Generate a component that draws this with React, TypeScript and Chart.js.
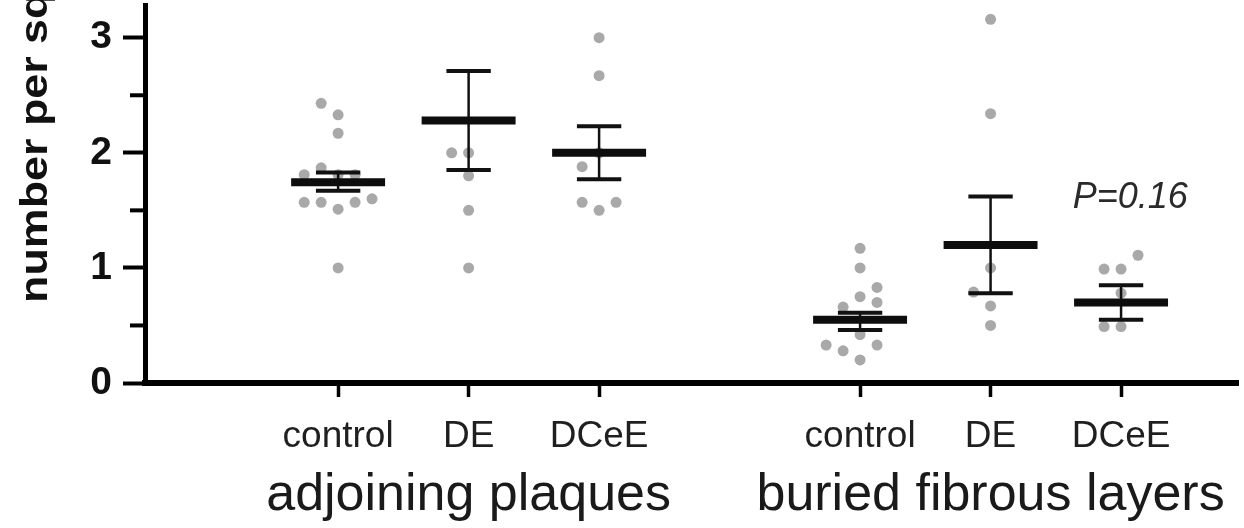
import React, { useEffect, useRef } from 'react';
import { Chart, registerables } from 'chart.js';

Chart.register(...registerables);

// ---- data ----
const categoryPositions = [1, 2, 3, 5, 6, 7];
const categoryLabels = ['control', 'DE', 'DCeE', 'control', 'DE', 'DCeE'];
const groupLabels = ['adjoining plaques', 'buried fibrous layers'];
const groupCenters = [2, 6];
const yMajorTicks = [0, 1, 2, 3];
const yMinorTicks = [0.5, 1.5, 2.5];
const yAxisTitle = 'number per sq mm';

const adjControl = [2.33, 2.43, 2.17, 1.81, 1.87, 1.81, 1.81, 1.51, 1.57, 1.57, 1.57, 1.6, 1.0];
const adjDE = [2.0, 2.0, 1.8, 1.5, 1.0];
const adjDCeE = [3.0, 2.67, 2.0, 1.88, 1.5, 1.57, 1.57];
const burControl = [1.17, 1.0, 0.75, 0.66, 0.83, 0.7, 0.42, 0.2, 0.28, 0.33, 0.33];
const burDE = [3.16, 2.34, 1.0, 0.67, 0.79, 0.5];
const burDCeE = [0.99, 0.99, 1.11, 0.78, 0.49, 0.49];
const groupValues = [adjControl, adjDE, adjDCeE, burControl, burDE, burDCeE];

const means = [1.745, 2.28, 2.0, 0.55, 1.2, 0.7];
const semHigh = [1.83, 2.71, 2.23, 0.61, 1.62, 0.85];
const semLow = [1.67, 1.85, 1.77, 0.46, 0.78, 0.55];

const pValueText = 'P=0.16';
const pValueX = 7.07;
const pValueY = 1.61;

// ---- layout / style constants ----
const X_MIN = -0.48;
const X_MAX = 7.9;
const Y_MIN = 0;
const Y_MAX = 3.28;
const PX_PER_X = 131.2;
const PX_PER_Y = 116.7;
const DOT_STEP = 0.13;
const MIN_DIST = 14.5;
const NEIGH = 21.75;
const MEAN_HALF = 0.36;
const CAP_HALF = 0.17;
const FONT = '"Liberation Sans", Arial, Helvetica, sans-serif';

type Pt = { x: number; y: number | null };

function swarm(center: number, values: number[]): Pt[] {
  const placed: { slot: number; v: number }[] = [];
  for (const v of values) {
    const ok = (s: number) =>
      placed.every((p) => {
        const dx = (p.slot - s) * DOT_STEP * PX_PER_X;
        const dy = (p.v - v) * PX_PER_Y;
        return Math.hypot(dx, dy) >= MIN_DIST;
      });
    let slot = 0;
    if (!ok(0)) {
      for (let k = 1; k < 30; k++) {
        const l = ok(-k);
        const r = ok(k);
        if (l && r) {
          const near = placed.filter((p) => Math.abs(p.v - v) * PX_PER_Y < NEIGH);
          const nl = near.filter((p) => p.slot < 0).length;
          const nr = near.filter((p) => p.slot > 0).length;
          slot = nr < nl ? k : -k;
          break;
        }
        if (l) { slot = -k; break; }
        if (r) { slot = k; break; }
      }
    }
    placed.push({ slot, v });
  }
  return placed.map((p) => ({ x: center + p.slot * DOT_STEP, y: p.v }));
}

function segments(ys: number[], half: number): Pt[] {
  const out: Pt[] = [];
  categoryPositions.forEach((c, i) => {
    out.push({ x: c - half, y: ys[i] }, { x: c + half, y: ys[i] }, { x: c, y: null });
  });
  return out;
}

function verticals(): Pt[] {
  const out: Pt[] = [];
  categoryPositions.forEach((c, i) => {
    out.push({ x: c, y: semLow[i] }, { x: c, y: semHigh[i] }, { x: c, y: null });
  });
  return out;
}

const decorPlugin = {
  id: 'decor',
  afterDraw(chart: any) {
    const { ctx, scales } = chart;
    const xs = scales.x;
    const ys = scales.y;
    ctx.save();
    // minor y ticks
    ctx.strokeStyle = '#000';
    ctx.lineWidth = 4;
    yMinorTicks.forEach((v) => {
      const py = ys.getPixelForValue(v);
      ctx.beginPath();
      ctx.moveTo(ys.right - 15, py);
      ctx.lineTo(ys.right, py);
      ctx.stroke();
    });
    // group labels
    ctx.fillStyle = '#1a1a1a';
    ctx.font = `52px ${FONT}`;
    ctx.textAlign = 'center';
    ctx.textBaseline = 'alphabetic';
    groupLabels.forEach((g, i) => {
      ctx.fillText(g, xs.getPixelForValue(groupCenters[i]), 510);
    });
    // p value
    ctx.font = `italic 36px ${FONT}`;
    ctx.fillStyle = '#2a2a2a';
    ctx.textBaseline = 'middle';
    ctx.fillText(pValueText, xs.getPixelForValue(pValueX), ys.getPixelForValue(pValueY));
    // y title
    ctx.translate(47, 303);
    ctx.rotate(-Math.PI / 2);
    ctx.scale(1.18, 1);
    ctx.font = `bold 38px ${FONT}`;
    ctx.fillStyle = '#111';
    ctx.textAlign = 'left';
    ctx.textBaseline = 'alphabetic';
    ctx.fillText(yAxisTitle, 0, 0);
    ctx.restore();
  },
};

export default function App() {
  const ref = useRef<HTMLCanvasElement | null>(null);
  useEffect(() => {
    if (!ref.current) return;
    const dotData: Pt[] = [];
    groupValues.forEach((vals, i) => dotData.push(...swarm(categoryPositions[i], vals)));

    const chart = new Chart(ref.current, {
      type: 'line',
      data: {
        datasets: [
          {
            type: 'scatter',
            data: dotData,
            backgroundColor: '#a9a9a9',
            borderWidth: 0,
            pointRadius: 5.5,
            order: 10,
          } as any,
          {
            data: segments(means, MEAN_HALF),
            borderColor: '#0d0d0d',
            borderWidth: 8,
            pointRadius: 0,
            spanGaps: false,
            order: 1,
          },
          {
            data: segments(semHigh, CAP_HALF).concat(segments(semLow, CAP_HALF)),
            borderColor: '#111',
            borderWidth: 4,
            pointRadius: 0,
            spanGaps: false,
            order: 2,
          },
          {
            data: verticals(),
            borderColor: '#111',
            borderWidth: 2.5,
            pointRadius: 0,
            spanGaps: false,
            order: 3,
          },
        ],
      },
      options: {
        animation: false,
        responsive: true,
        maintainAspectRatio: false,
        layout: { padding: 0 },
        plugins: { legend: { display: false }, tooltip: { enabled: false } },
        scales: {
          x: {
            type: 'linear',
            min: X_MIN,
            max: X_MAX,
            afterFit: (s: any) => {
              s.height = 145;
              s.paddingLeft = 0;
              s.paddingRight = 0;
            },
            border: { color: '#000', width: 6 },
            grid: {
              drawOnChartArea: false,
              drawTicks: true,
              tickLength: 14,
              tickWidth: 3.5,
              tickColor: (ctx: any) =>
                categoryPositions.includes(ctx.tick?.value) ? '#000' : 'rgba(0,0,0,0)',
            },
            ticks: {
              stepSize: 1,
              includeBounds: false,
              autoSkip: false,
              maxRotation: 0,
              padding: 18,
              color: '#1f1f1f',
              font: { family: FONT, size: 37 },
              callback: (v: any) => {
                const i = categoryPositions.indexOf(Number(v));
                return i >= 0 ? categoryLabels[i] : '';
              },
            },
          },
          y: {
            type: 'linear',
            min: Y_MIN,
            max: Y_MAX,
            afterFit: (s: any) => {
              s.width = 145;
              s.paddingTop = 0;
              s.paddingBottom = 0;
            },
            border: { color: '#000', width: 5 },
            grid: {
              drawOnChartArea: false,
              drawTicks: true,
              tickLength: 22,
              tickWidth: 4,
              tickColor: '#000',
            },
            ticks: {
              stepSize: 1,
              includeBounds: false,
              padding: 11,
              color: '#111',
              font: { family: FONT, size: 39, weight: 'bold' },
              callback: (v: any) => (yMajorTicks.includes(Number(v)) ? String(v) : ''),
            },
          },
        },
      },
      plugins: [decorPlugin],
    } as any);
    return () => chart.destroy();
  }, []);

  return (
    <div style={{ position: 'fixed', left: 0, top: 0, width: 1244, height: 528, background: '#fff' }}>
      <canvas ref={ref} />
    </div>
  );
}
